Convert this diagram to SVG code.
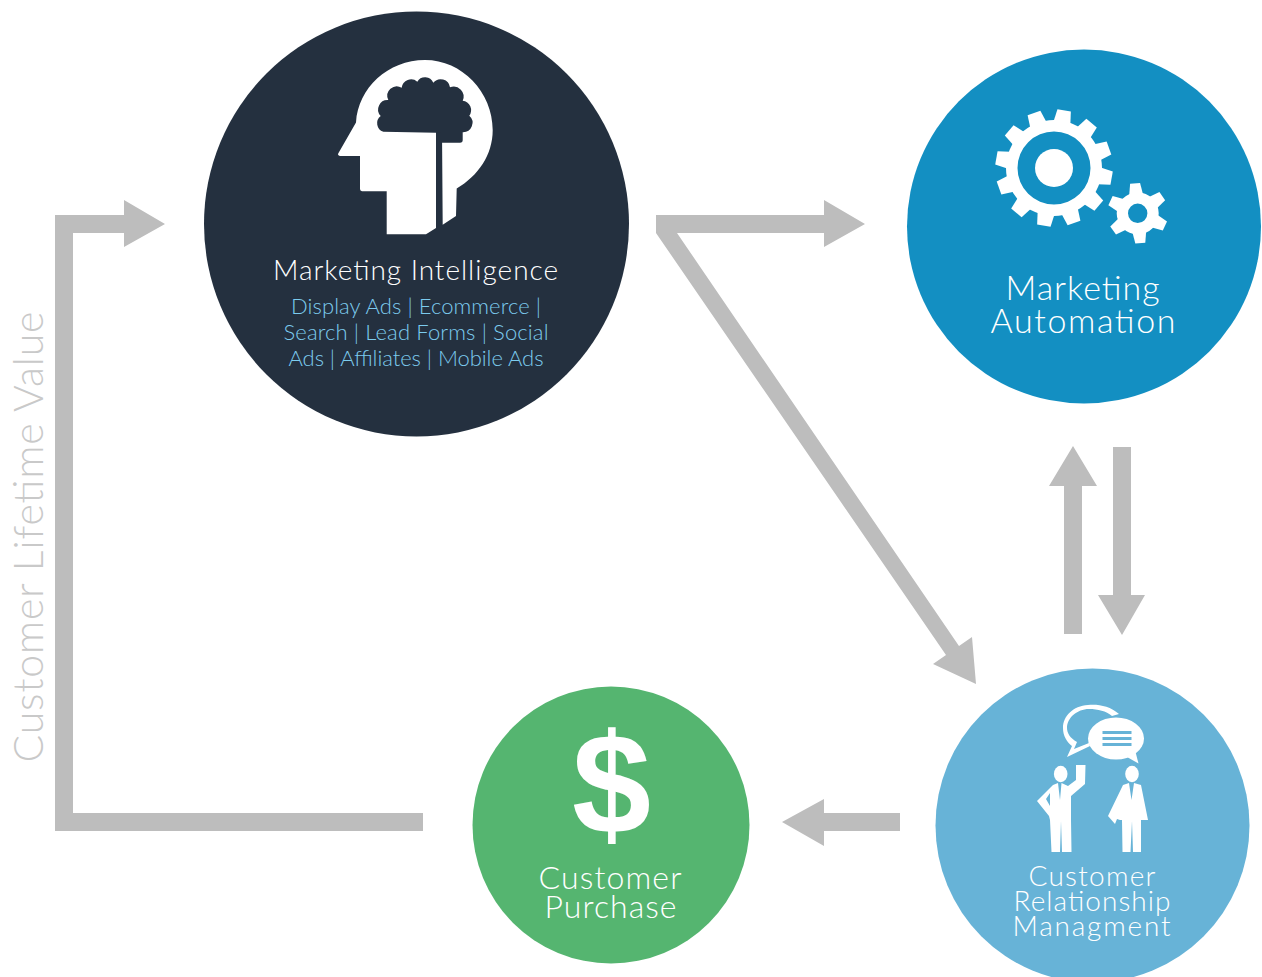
<svg xmlns="http://www.w3.org/2000/svg" width="1262" height="977" viewBox="0 0 1262 977">
<style>
text{font-family:"Lato","Open Sans","Liberation Sans",sans-serif;font-weight:300;text-anchor:middle}
.w{fill:#fff}
.sub{fill:#7ccbee;font-size:22px}
.arrow{fill:#bdbdbd}
</style>
<defs>
<polygon id="t1" points="-8.5,-46 -6.8,-58.5 6.8,-58.5 8.5,-46"/>
<polygon id="t2" points="-7,-18 -5,-30 5,-30 7,-18"/>
</defs>
<rect width="1262" height="977" fill="#fff"/>
<g id="connectors" class="arrow">
<polygon points="423,813 73,813 73,233 124,233 124,200 165,224 124,247 124,215 55,215 55,831 423,831"/>
<polygon points="656,215 824,215 824,200 865,224 824,247 824,233 677,233 959,646 972,637 976,684 933,664 946,655 656,233"/>
<polygon points="1064,634 1064,486 1049,486 1073,446 1097,486 1082,486 1082,634"/>
<polygon points="1113,447 1131,447 1131,595 1145,595 1122,635 1098,595 1113,595"/>
<polygon points="900,813 824,813 824,799 782,822 824,846 824,831 900,831"/>
</g>
<text transform="translate(43,537) rotate(-90)" font-size="41" fill="#c9c9c9" textLength="451" lengthAdjust="spacing">Customer Lifetime Value</text>
<g id="node-marketing-intelligence">
<circle cx="416.5" cy="224" r="212.5" fill="#24303f"/>
<path class="w" d="M338.5,153 L356,122.5 C358,88 388,60 425,60 C462,60 492.7,92 492.7,130 C492.7,155 478,176 456.7,188.5 L456,216 L442.7,224.7 L442,130 L436,130 L436,228 L426,234.3 L386.7,234.3 L386.7,191.3 L362,191.3 Q360,191 360,189 L360,156 L340,156 Q337,155 338.5,153 Z"/>
<path fill="#24303f" d="M383.3,131.7 A9,9 0 0 1 380.7,116 A9.5,9.5 0 0 1 388.3,100 A9.5,9.5 0 0 1 401.7,87.7 A9.5,9.5 0 0 1 417.3,81.7 A9,9 0 0 1 433.3,82.7 A9.5,9.5 0 0 1 450,87.3 A10,10 0 0 1 462.7,100.7 A9.5,9.5 0 0 1 469.3,115.7 A9.5,9.5 0 0 1 462.7,132.3 L462.7,140 Q462.7,142.7 460,142.7 L442,142.7 L442,133 L436,132.7 Z"/>
<text class="w" x="415.5" y="280" font-size="28" textLength="285" lengthAdjust="spacing">Marketing Intelligence</text>
<text class="sub" x="416" y="313.5" textLength="250" lengthAdjust="spacing">Display Ads | Ecommerce |</text>
<text class="sub" x="416" y="339.5" textLength="265" lengthAdjust="spacing">Search | Lead Forms | Social</text>
<text class="sub" x="416" y="365.5" textLength="255" lengthAdjust="spacing">Ads | Affiliates | Mobile Ads</text>
</g>
<g id="node-marketing-automation">
<circle cx="1084" cy="226.5" r="177" fill="#138fc2"/>
<g class="w" transform="translate(1054,168)">
<path fill-rule="evenodd" d="M0,-48A48,48 0 1 1 0,48A48,48 0 1 1 0,-48ZM0,-36.5A36.5,36.5 0 1 0 0,36.5A36.5,36.5 0 1 0 0,-36.5Z"/>
<circle r="19"/>
<use href="#t1" transform="rotate(10)"/><use href="#t1" transform="rotate(40)"/><use href="#t1" transform="rotate(70)"/><use href="#t1" transform="rotate(100)"/><use href="#t1" transform="rotate(130)"/><use href="#t1" transform="rotate(160)"/><use href="#t1" transform="rotate(190)"/><use href="#t1" transform="rotate(220)"/><use href="#t1" transform="rotate(250)"/><use href="#t1" transform="rotate(280)"/><use href="#t1" transform="rotate(310)"/><use href="#t1" transform="rotate(340)"/>
</g>
<g class="w" transform="translate(1137.7,213.3)">
<path fill-rule="evenodd" d="M0,-21A21,21 0 1 1 0,21A21,21 0 1 1 0,-21ZM0,-9.7A9.7,9.7 0 1 0 0,9.7A9.7,9.7 0 1 0 0,-9.7Z"/>
<use href="#t2" transform="rotate(-5)"/><use href="#t2" transform="rotate(55)"/><use href="#t2" transform="rotate(115)"/><use href="#t2" transform="rotate(175)"/><use href="#t2" transform="rotate(235)"/><use href="#t2" transform="rotate(295)"/>
</g>
<text class="w" x="1082.5" y="300" font-size="34" textLength="154" lengthAdjust="spacing">Marketing</text>
<text class="w" x="1083" y="333" font-size="34" textLength="185" lengthAdjust="spacing">Automation</text>
</g>
<g id="node-customer-purchase">
<circle cx="611" cy="825" r="138.5" fill="#55b570"/>
<text class="w" x="611.5" y="833" font-size="142" style="font-family:'Liberation Sans',sans-serif;font-weight:700">$</text>
<text class="w" x="610" y="889" font-size="32" textLength="143" lengthAdjust="spacing">Customer</text>
<text class="w" x="610.5" y="918" font-size="32" textLength="132" lengthAdjust="spacing">Purchase</text>
</g>
<g id="node-crm">
<circle cx="1092.5" cy="825.5" r="157" fill="#67b3d7"/>
<path class="w" d="M1119,714 C1110,706 1098,704 1088,705 C1073,706 1063,716 1063,728 C1063,736 1067,742 1072,746 L1067,757 L1090,746 L1089,743 L1074,749 L1077,742 C1070,738 1067,733 1067,728 C1067,718 1077,709 1089,709 C1098,709 1106,711 1112,716 Z"/>
<ellipse class="w" cx="1116" cy="738.5" rx="28" ry="21"/>
<polygon class="w" points="1127,757 1138.5,763.5 1135,750"/>
<g fill="#67b3d7"><rect x="1102.5" y="731" width="29" height="3"/><rect x="1102.5" y="737" width="29" height="3"/><rect x="1102.5" y="743" width="29" height="3"/></g>
<ellipse class="w" cx="1060.7" cy="774" rx="6.8" ry="8.2"/>
<path class="w" d="M1053,785 L1058,783 L1060,800 L1061.5,783 L1068,786 L1076,780 L1076,765 L1085.5,765 L1085,784 L1071,796 L1071,820 L1071.5,852 L1062,852 L1061,821 L1060,852 L1051.5,852 L1050,820 L1049,816 L1037,801 Z M1046,799 L1050,806 L1050,793 Z"/>
<ellipse class="w" cx="1132" cy="774" rx="6.8" ry="8.2"/>
<path class="w" d="M1123,785 L1129,783 L1131.5,800 L1134,783 L1141,785 L1148,820 L1141,820 L1141,852 L1133,852 L1132,821 L1130.5,852 L1122.5,852 L1122,820 L1120,820 L1117,819 L1115,824 L1108,816 Z"/>
<text class="w" x="1092" y="886" font-size="28" textLength="127" lengthAdjust="spacing">Customer</text>
<text class="w" x="1092" y="911" font-size="28" textLength="157" lengthAdjust="spacing">Relationship</text>
<text class="w" x="1091.5" y="936" font-size="28" textLength="158" lengthAdjust="spacing">Managment</text>
</g>
</svg>
